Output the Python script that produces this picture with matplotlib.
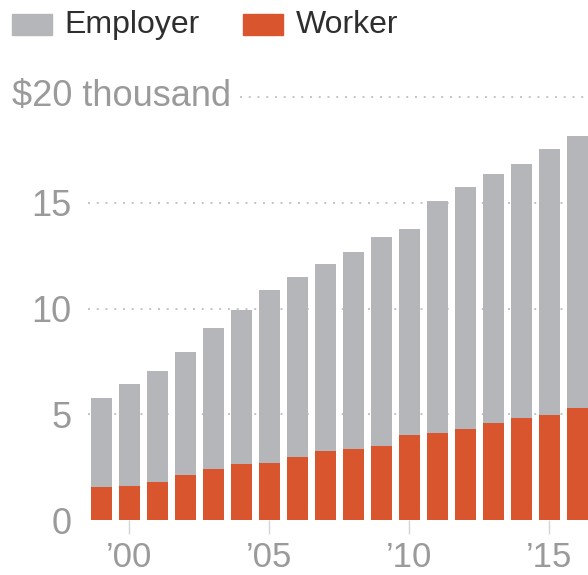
import matplotlib
matplotlib.use("Agg")
import matplotlib.pyplot as plt
from matplotlib.patches import Rectangle

# premiums for family coverage, thousands of dollars
years = list(range(1999, 2017))
total = [5.79, 6.44, 7.06, 7.95, 9.07, 9.95, 10.88, 11.48, 12.11, 12.68,
         13.38, 13.77, 15.07, 15.75, 16.35, 16.83, 17.55, 18.14]
worker = [1.54, 1.62, 1.79, 2.14, 2.41, 2.66, 2.71, 2.97, 3.28, 3.35,
          3.52, 4.00, 4.13, 4.32, 4.57, 4.82, 4.96, 5.28]
employer = [t - w for t, w in zip(total, worker)]

ytick_vals = [0, 5, 10, 15]
xtick_vals = [2000, 2005, 2010, 2015]
xtick_labels = ["\u201900", "\u201905", "\u201910", "\u201915"]

GRAY = "#b4b6b9"
ORANGE = "#d9552d"
TICKGRAY = "#9a9a9a"

plt.rcParams['font.family'] = ['Liberation Sans', 'DejaVu Sans']

W, H = 588, 575
fig = plt.figure(figsize=(W / 100, H / 100), dpi=100)
# axes in pixels: left 80, right 588, bottom 520 (from top), top 90
ax = fig.add_axes([80 / W, 1 - 520 / H, 508 / W, 430 / H])

ax.bar(years, worker, width=0.75, color=ORANGE, zorder=2)
ax.bar(years, employer, width=0.75, bottom=worker, color=GRAY, zorder=2)

ax.set_xlim(1998.25, 2016.39)
ax.set_ylim(0, 430 / 21.15)

# dotted grid lines
for v in ytick_vals[1:]:
    ax.axhline(v, xmin=8 / 508, xmax=1, color="#c4c4c4", lw=1.4,
               ls=(0, (1, 3.5)), zorder=1)
ax.axhline(20, xmin=160 / 508, xmax=1, color="#c4c4c4", lw=1.4,
           ls=(0, (1, 3.5)), zorder=1)

for s in ax.spines.values():
    s.set_visible(False)

ax.set_yticks(ytick_vals)
ax.set_yticklabels([str(v) for v in ytick_vals])
ax.tick_params(axis="y", length=0, pad=6, labelsize=26, labelcolor=TICKGRAY)
ax.set_xticks(xtick_vals)
ax.set_xticklabels(xtick_labels)
ax.tick_params(axis="x", length=10, width=1, color="#cfd8d8", pad=5,
               labelsize=25, labelcolor=TICKGRAY)

# top label
fig.text(12 / W, 1 - 97 / H, "$20 thousand", fontsize=26, color=TICKGRAY,
         ha="left", va="center")

# legend
fig.patches.append(Rectangle((12 / W, 1 - 35 / H), 40 / W, 21 / H,
                             transform=fig.transFigure, color=GRAY))
fig.text(64 / W, 1 - 25 / H, "Employer", fontsize=23, color="#2e2e2e",
         ha="left", va="center")
fig.patches.append(Rectangle((243 / W, 1 - 35 / H), 40 / W, 21 / H,
                             transform=fig.transFigure, color=ORANGE))
fig.text(296 / W, 1 - 25 / H, "Worker", fontsize=23, color="#2e2e2e",
         ha="left", va="center")

fig.savefig("out.png", dpi=100)
